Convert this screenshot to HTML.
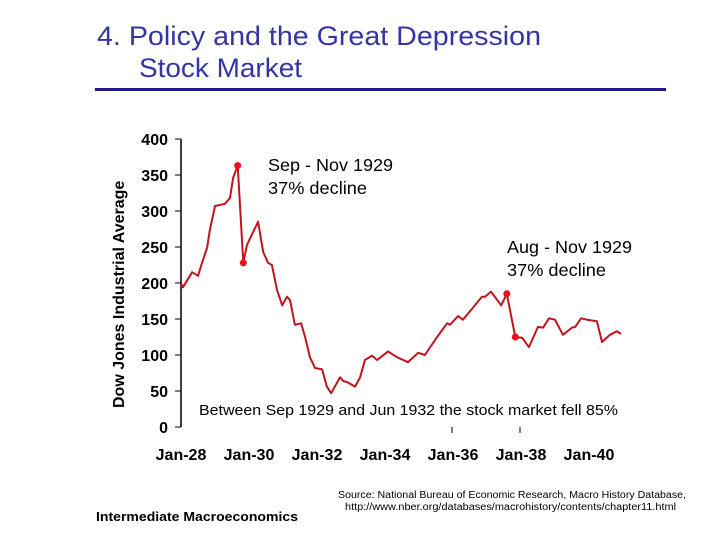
<!DOCTYPE html>
<html><head><meta charset="utf-8"><style>
body{margin:0;background:#fff;}
svg{display:block;font-family:"Liberation Sans",sans-serif;}
</style></head><body>
<svg id="c" width="720" height="540" viewBox="0 0 720 540">
<text x="97" y="45" font-size="27" fill="#3434a4" textLength="444" lengthAdjust="spacingAndGlyphs">4.  Policy and the Great Depression</text>
<text x="139" y="77" font-size="27" fill="#3434a4" textLength="163" lengthAdjust="spacingAndGlyphs">Stock Market</text>
<rect x="95" y="88" width="571" height="3" fill="#1c1c80"/>
<text transform="translate(124,408) rotate(-90)" font-size="16" font-weight="bold">Dow Jones Industrial Average</text>
<line x1="181" y1="139" x2="181" y2="427" stroke="#000" stroke-width="1.5"/>
<g id="yt"></g>
<g id="xt"></g>
<line x1="452" y1="427" x2="452" y2="433" stroke="#000"/>
<line x1="520" y1="427" x2="520" y2="433" stroke="#000"/>
<g id="plot"></g>
<text x="268" y="171" font-size="17.5" textLength="125" lengthAdjust="spacingAndGlyphs">Sep - Nov 1929</text>
<text x="268" y="194" font-size="17.5" textLength="99" lengthAdjust="spacingAndGlyphs">37% decline</text>
<text x="507" y="253" font-size="17.5" textLength="125" lengthAdjust="spacingAndGlyphs">Aug - Nov 1929</text>
<text x="507" y="276" font-size="17.5" textLength="99" lengthAdjust="spacingAndGlyphs">37% decline</text>
<text x="199" y="415" font-size="15" textLength="419" lengthAdjust="spacingAndGlyphs">Between Sep 1929 and Jun 1932 the stock market fell 85%</text>
<text x="96" y="521" font-size="12.5" font-weight="bold" textLength="202" lengthAdjust="spacingAndGlyphs">Intermediate Macroeconomics</text>
<text x="338" y="498" font-size="10" textLength="348" lengthAdjust="spacingAndGlyphs">Source: National Bureau of Economic Research, Macro History Database,</text>
<text x="345" y="510" font-size="10" textLength="331" lengthAdjust="spacingAndGlyphs">http://www.nber.org/databases/macrohistory/contents/chapter11.html</text>
</svg>
<script>
const months=[0,0.7,3.9,6,7.4,9.2,10.2,12,15.5,17.3,18.4,20,22,23.3,27.2,29,30.7,32.1,33.9,35.7,37.4,38.5,40.2,42.4,43.8,45.5,47.3,49.8,51.5,53,56.1,57.2,58.9,61.4,63.2,64.9,67.4,69.2,73.1,76.2,79.1,80.1,83.7,86.1,90.4,93.9,94.9,97.8,99.5,102.7,106.2,107.3,109.4,113,115,118,120.4,122.8,126,127.8,129.9,132,134.8,138,139.1,141.2,143.3,146.8,148.6,151.4,153.9,155.3];
const dowValues=[200,194,215,210,228,249,274,307,310,318,346,363,228,253,285,243,228,225,190,169,181,176,142,144,125,97,82,80,56,47,69,64,62,56,69,93,99,93,105,97,92,90,103,100,125,144,142,154,149,164,181,181,188,169,185,125,124,111,139,138,151,149,128,138,139,151,149,147,118,128,133,129];
const highlightIdx=[11,12,54,55];
const yTicks=[0,50,100,150,200,250,300,350,400];
const xTickLabels=["Jan-28","Jan-30","Jan-32","Jan-34","Jan-36","Jan-38","Jan-40"];
const xTickMonths=[0,24,48,72,96,120,144];
const NS="http://www.w3.org/2000/svg";
const X=m=>181+m*(34/12);
const Y=v=>427-v*0.72;
function mk(tag,attrs,parent){const e=document.createElementNS(NS,tag);for(const k in attrs)e.setAttribute(k,attrs[k]);parent.appendChild(e);return e;}
const yt=document.getElementById('yt'),xt=document.getElementById('xt'),plot=document.getElementById('plot');
yTicks.forEach(v=>{
 const l=mk('line',{x1:175,x2:181,y1:Y(v),y2:Y(v),stroke:'#000'},yt);
 
 
 const t=mk('text',{x:168,y:Y(v)+6,'font-size':16,'font-weight':'bold','text-anchor':'end'},yt);
 t.textContent=v;
 
 
});
xTickLabels.forEach((s,i)=>{
 const t=mk('text',{x:X(xTickMonths[i]),y:460,'font-size':16,'font-weight':'bold','text-anchor':'middle'},xt);
 t.textContent=s;
 
 
});
const pts=months.map((m,i)=>X(m).toFixed(1)+','+Y(dowValues[i]).toFixed(1)).join(' ');
const pl=mk('polyline',{points:pts,fill:'none',stroke:'#c0141e','stroke-width':2,'stroke-linejoin':'round'},plot);


highlightIdx.forEach(i=>{
 const c=mk('circle',{cx:X(months[i]),cy:Y(dowValues[i]),r:3.5,fill:'#e8101a'},plot);
 
 
});
</script>
</body></html>
